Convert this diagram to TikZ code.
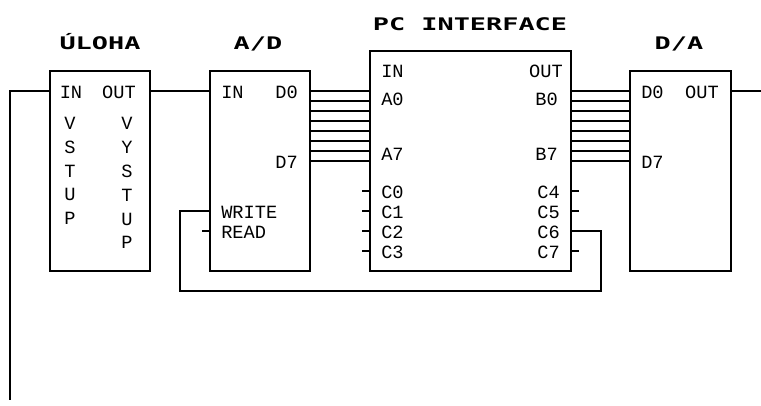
\documentclass[tikz,border=0pt]{standalone}
\usepackage{fontspec}
\usepackage{tikz}
\newfontfamily\pinfont{Liberation Mono}
\newfontfamily\titlefont[FakeStretch=1.55]{DejaVu Sans Mono Bold}
\tikzset{
    block/.style={draw, line width=1pt, anchor=north west, inner sep=0pt, outer sep=0pt, minimum width=75pt, minimum height=150pt},
    wire/.style={line width=1pt},
    pin/.style={font=\pinfont\fontsize{14}{14}\selectfont, inner sep=0pt},
    pinleft/.style={pin, anchor=west},
    pinright/.style={pin, anchor=east},
    heading/.style={font=\titlefont\fontsize{13}{13}\selectfont, inner sep=0pt}
}

\begin{document}
\begin{tikzpicture}[x=0.75pt, y=-0.75pt]
    \useasboundingbox (0,0) rectangle (761,405);

    % blocks
    \node[block] (uloha) at (50,71) {};
    \node[block] (ad) at (210,71) {};
    \node[block, minimum width=150.75pt, minimum height=165pt] (pc) at (370,51) {};
    \node[block, minimum width=75.75pt] (da) at (630,71) {};

    \node[heading] (uloha title) at (100,42) {ÚLOHA};
    \node[heading] (ad title) at (258,44) {A/D};
    \node[heading] (pc title) at (470,24) {PC INTERFACE};
    \node[heading] (da title) at (679,44) {D/A};

    % uloha labels
    \node[pin] (uloha in) at (71,92) {IN};
    \node[pin] (uloha out) at (119,92) {OUT};
    \foreach \letter [count=\i] in {V,S,T,U,P}
        \node[pin] (vstup\i) at (70,100+23.7*\i) {\letter};
    \foreach \letter [count=\i] in {V,Y,S,T,U,P}
        \node[pin] (vystup\i) at (127,100+23.8*\i) {\letter};

    % a/d labels
    \node[pinleft] (ad in) at (221,92) {IN};
    \node[pinright] (ad d0 label) at (298,92) {D0};
    \node[pinright] (ad d7 label) at (298,162) {D7};
    \node[pinleft] (ad write) at (221,212) {WRITE};
    \node[pinleft] (ad read) at (221,232) {READ};

    % interface labels
    \node[pinleft] (pc in) at (381,71) {IN};
    \node[pinright] (pc out) at (563,71) {OUT};
    \node[pinleft] (pc a0 label) at (381,99) {A0};
    \node[pinleft] (pc a7 label) at (381,154) {A7};
    \node[pinright] (pc b0 label) at (558,99) {B0};
    \node[pinright] (pc b7 label) at (558,154) {B7};
    \foreach \i in {0,...,3}
        \node[pinleft] (pc c\i) at (381,192+20*\i) {C\i};
    \foreach \i in {4,...,7}
        \node[pinright] (pc c\i) at (560,112+20*\i) {C\i};

    % d/a labels
    \node[pinleft] (da d0 label) at (641,92) {D0};
    \node[pinright] (da out) at (719,92) {OUT};
    \node[pinleft] (da d7 label) at (641,162) {D7};

    % data buses
    \foreach \i in {0,...,7} {
        \coordinate (ad d\i) at (310,91+10*\i);
        \coordinate (pc a\i) at (370,91+10*\i);
        \coordinate (pc b\i) at (571,91+10*\i);
        \coordinate (da d\i) at (630,91+10*\i);
        \draw[wire] (ad d\i) -- (pc a\i);
        \draw[wire] (pc b\i) -- (da d\i);
    }

    % analog path
    \coordinate (uloha left) at (50,91);
    \coordinate (return end) at (10,400);
    \coordinate (uloha right) at (150,91);
    \coordinate (ad left) at (210,91);
    \coordinate (da right) at (731,91);
    \coordinate (out end) at (761,91);
    \draw[wire] (uloha left) -| (return end);
    \draw[wire] (uloha right) -- (ad left);
    \draw[wire] (da right) -- (out end);

    % control pins
    \foreach \i in {0,...,3} {
        \coordinate (stub c\i) at (370,191+20*\i);
        \coordinate (stub end c\i) at (362,191+20*\i);
        \draw[wire] (stub c\i) -- (stub end c\i);
    }
    \foreach \i in {4,5,7} {
        \coordinate (stub c\i) at (571,111+20*\i);
        \coordinate (stub end c\i) at (579,111+20*\i);
        \draw[wire] (stub c\i) -- (stub end c\i);
    }
    \coordinate (ad readpin) at (210,231);
    \coordinate (ad readend) at (202,231);
    \draw[wire] (ad readpin) -- (ad readend);

    % write strobe
    \coordinate (c6 pin) at (571,231);
    \coordinate (write pin) at (210,211);
    \coordinate (strobe right) at (601,291);
    \coordinate (strobe left) at (180,291);
    \draw[wire] (c6 pin) -| (strobe right) -- (strobe left) |- (write pin);
\end{tikzpicture}
\end{document}
